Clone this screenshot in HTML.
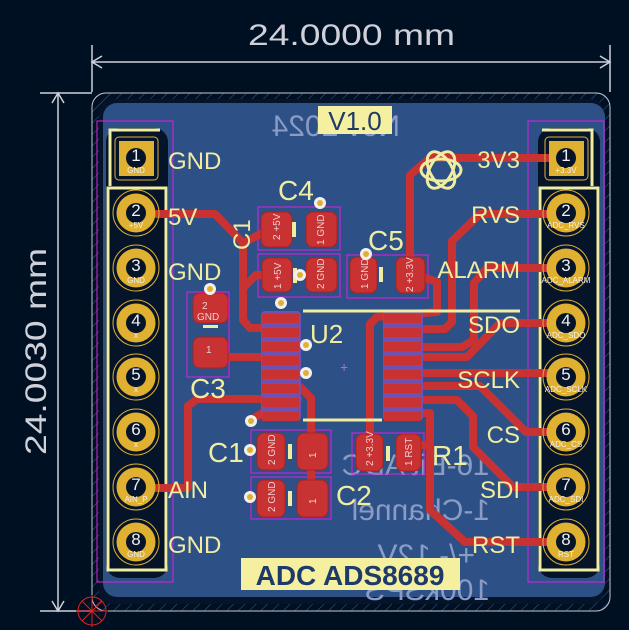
<!DOCTYPE html>
<html><head><meta charset="utf-8"><style>
html,body{margin:0;padding:0;background:#001023;}
svg{display:block}
text{font-family:"Liberation Sans","DejaVu Sans",sans-serif;}
</style></head><body>
<svg width="629" height="630" viewBox="0 0 629 630" xmlns="http://www.w3.org/2000/svg">
<defs>
<pattern id="h" width="8" height="8" patternUnits="userSpaceOnUse" patternTransform="rotate(45)">
<line x1="0" y1="0" x2="0" y2="8" stroke="#4d7ec0" stroke-width="1"/>
</pattern>
</defs>
<rect width="629" height="630" fill="#001023"/>
<rect x="92" y="93" width="518" height="518" rx="14" fill="url(#h)" opacity="0.7"/>
<rect x="92" y="93" width="518" height="518" rx="14" fill="none" stroke="#c8c8d0" stroke-width="1"/>
<rect x="99" y="99" width="504" height="505" rx="12" fill="#06142a"/>
<rect x="103" y="103" width="502" height="494" rx="14" fill="#2d5087"/>
<g stroke="#d0d0d8" stroke-width="1.5" fill="none">
<line x1="92" y1="62" x2="610" y2="62"/><line x1="92" y1="45" x2="92" y2="92"/><line x1="610" y1="45" x2="610" y2="92"/>
<polyline points="102,56 92,62 102,68"/><polyline points="600,56 610,62 600,68"/>
<line x1="58" y1="93" x2="58" y2="611"/><line x1="40" y1="93" x2="92" y2="93"/><line x1="40" y1="611" x2="92" y2="611"/>
<polyline points="52,103 58,93 64,103"/><polyline points="52,601 58,611 64,601"/>
</g>
<text x="248" y="45" font-size="30" fill="#d0d0d8" textLength="207" lengthAdjust="spacingAndGlyphs">24.0000 mm</text>
<text transform="translate(46,455) rotate(-90)" font-size="30" fill="#d0d0d8" textLength="207" lengthAdjust="spacingAndGlyphs">24.0030 mm</text>
<g stroke="#e02020" stroke-width="1" fill="none"><circle cx="92" cy="611" r="14"/><line x1="76" y1="611" x2="108" y2="611"/><line x1="92" y1="595" x2="92" y2="627"/><line x1="82" y1="601" x2="102" y2="621"/><line x1="102" y1="601" x2="82" y2="621"/></g>

<g fill="#8a9bc4" font-size="30">
<text transform="translate(400,136) scale(-1,1)">Nov 2024</text>
<text transform="translate(490,475) scale(-1,1)">16-Bit ADC</text>
<text transform="translate(490,520) scale(-1,1)">1-Channel</text>
<text transform="translate(475,565) scale(-1,1)">+/- 12V</text>
<text transform="translate(490,600) scale(-1,1)">100kSPS</text>
</g>

<g fill="#06142a">
<rect x="106" y="128" width="62" height="450" rx="14"/>
<rect x="538" y="128" width="62" height="450" rx="14"/>
</g>
<g fill="none" stroke="#e020e0" stroke-width="1">
<rect x="97" y="121" width="76" height="461"/>
<rect x="528" y="121" width="76" height="461"/>
<rect x="258" y="207" width="82" height="43"/>
<rect x="258" y="254" width="82" height="43"/>
<rect x="347" y="255" width="81" height="43"/>
<rect x="187" y="292" width="42" height="85"/>
<rect x="251" y="430" width="80" height="43"/>
<rect x="251" y="477" width="80" height="42"/>
<rect x="352" y="433" width="72" height="41"/>
</g>
<g fill="none" stroke="#f0eca0" stroke-width="3">
<polyline points="110,186 110,130 160,130"/>
<rect x="108" y="188" width="58" height="382"/>
<polyline points="592,186 592,130 542,130"/>
<rect x="540" y="188" width="58" height="382"/>
</g>

<g fill="none" stroke="#c83232" stroke-width="8" stroke-linejoin="round" stroke-linecap="round">
<polyline points="156,214 215,214 243,243 243,320 250,328 262,328"/>
<polyline points="243,243 268,230"/>
<polyline points="243,288 256,275 270,275"/>
<polyline points="209,357 262,357"/>
<polyline points="156,488 188,488 188,406 197,399 298,399"/>
<polyline points="298,385 311,398 311,500"/>
<polyline points="251,420 262,413"/>
<polyline points="566,158 430,158 410,175 410,272"/>
<polyline points="420,276 437,282 437,312 377,317 370,324 370,445"/>
<polyline points="566,214 480,214 452,241 452,322 445,329 420,329"/>
<polyline points="566,268 487,268 474,283 474,340 462,347 420,347"/>
<polyline points="566,323 500,323 467,357 420,357"/>
<polyline points="420,373 566,373"/>
<polyline points="420,386 480,386 526,432 566,432"/>
<polyline points="420,400 457,400 473,416 473,447 513,487 566,487"/>
<polyline points="420,413 430,413 430,510 465,542 566,542"/>
<polyline points="412,445 430,445"/>
</g>

<g fill="#7050b0">
<rect x="261" y="311" width="40" height="110" rx="4"/>
<rect x="383" y="311" width="40" height="110" rx="4"/>
</g>
<g fill="#c83232">
<rect x="262" y="314" width="37" height="9"/><rect x="262" y="328" width="37" height="9"/><rect x="262" y="342" width="37" height="9"/><rect x="262" y="356" width="37" height="9"/>
<rect x="262" y="370" width="37" height="9"/><rect x="262" y="384" width="37" height="9"/><rect x="262" y="398" width="37" height="9"/><rect x="262" y="412" width="37" height="9"/>
<rect x="384" y="314" width="37" height="9"/><rect x="384" y="328" width="37" height="9"/><rect x="384" y="342" width="37" height="9"/><rect x="384" y="356" width="37" height="9"/>
<rect x="384" y="370" width="37" height="9"/><rect x="384" y="384" width="37" height="9"/><rect x="384" y="398" width="37" height="9"/><rect x="384" y="412" width="37" height="9"/>
</g>
<g stroke="#f0eca0" stroke-width="3"><line x1="303" y1="311" x2="520" y2="311"/><line x1="303" y1="420" x2="382" y2="420"/></g>
<text x="310" y="343" font-size="26" fill="#f0eca0">U2</text>
<text x="340" y="372" font-size="14" fill="#a070e0">+</text>

<g fill="#c83232" stroke="#b02020">
<rect x="261" y="212" width="31" height="35" rx="7"/><rect x="306" y="212" width="31" height="35" rx="7"/>
<rect x="262" y="258" width="30" height="34" rx="7"/><rect x="306" y="258" width="31" height="34" rx="7"/>
<rect x="350" y="257" width="27" height="36" rx="7"/><rect x="396" y="257" width="29" height="36" rx="7"/>
<rect x="193" y="293" width="35" height="30" rx="7"/><rect x="193" y="337" width="35" height="31" rx="7"/>
<rect x="257" y="433" width="28" height="37" rx="7"/><rect x="297" y="433" width="31" height="37" rx="7"/>
<rect x="257" y="480" width="28" height="37" rx="7"/><rect x="297" y="480" width="31" height="37" rx="7"/>
<rect x="356" y="434" width="27" height="37" rx="7"/><rect x="396" y="434" width="25" height="37" rx="7"/>
</g>
<g fill="#f0d0d0" font-size="10">
<text transform="translate(280,240) rotate(-90)">2 +5V</text>
<text transform="translate(324,245) rotate(-90)">1 GND</text>
<text transform="translate(281,289) rotate(-90)">1 +5V</text>
<text transform="translate(324,289) rotate(-90)">2 GND</text>
<text transform="translate(368,289) rotate(-90)">1 GND</text>
<text transform="translate(413,292) rotate(-90)">2 +3.3V</text>
<text x="202" y="309">2</text><text x="197" y="320">GND</text>
<text x="206" y="353">1</text>
<text transform="translate(275,465) rotate(-90)">2 GND</text>
<text transform="translate(316,458) rotate(-90)">1</text>
<text transform="translate(275,512) rotate(-90)">2 GND</text>
<text transform="translate(316,504) rotate(-90)">1</text>
<text transform="translate(373,466) rotate(-90)">2 +3.3V</text>
<text transform="translate(412,466) rotate(-90)">1 RST</text>
</g>
<g fill="#f0eca0">
<rect x="292" y="222" width="4" height="15"/><rect x="293" y="268" width="4" height="15"/>
<rect x="379" y="267" width="4" height="15"/><rect x="203" y="325" width="15" height="3"/>
<rect x="288" y="444" width="4" height="15"/><rect x="288" y="491" width="4" height="15"/><rect x="386" y="446" width="4" height="15"/>
</g>

<g fill="#f0f0f0"><circle cx="320" cy="203" r="6"/><circle cx="300" cy="275" r="6"/><circle cx="281" cy="303" r="6"/><circle cx="210" cy="289" r="6"/><circle cx="306" cy="345" r="6"/><circle cx="306" cy="373" r="6"/><circle cx="251" cy="421" r="6"/><circle cx="250" cy="450" r="6"/><circle cx="250" cy="497" r="6"/><circle cx="366" cy="254" r="6"/></g>
<g fill="#e0b030"><circle cx="320" cy="203" r="3"/><circle cx="300" cy="275" r="3"/><circle cx="281" cy="303" r="3"/><circle cx="210" cy="289" r="3"/><circle cx="306" cy="345" r="3"/><circle cx="306" cy="373" r="3"/><circle cx="251" cy="421" r="3"/><circle cx="250" cy="450" r="3"/><circle cx="250" cy="497" r="3"/><circle cx="366" cy="254" r="3"/></g>

<g>
<rect x="119" y="141" width="35" height="35" fill="#e0b030"/>
<rect x="549" y="141" width="35" height="35" fill="#e0b030"/>
<g fill="#e0b030">
<circle cx="136" cy="213" r="19.5"/><circle cx="136" cy="268" r="19.5"/><circle cx="136" cy="323" r="19.5"/><circle cx="136" cy="377" r="19.5"/><circle cx="136" cy="432" r="19.5"/><circle cx="136" cy="487" r="19.5"/><circle cx="136" cy="542" r="19.5"/>
<circle cx="566" cy="213" r="19.5"/><circle cx="566" cy="268" r="19.5"/><circle cx="566" cy="323" r="19.5"/><circle cx="566" cy="377" r="19.5"/><circle cx="566" cy="432" r="19.5"/><circle cx="566" cy="487" r="19.5"/><circle cx="566" cy="542" r="19.5"/>
</g>
<g fill="none" stroke="#e0b030" stroke-width="1">
<circle cx="136" cy="213" r="23"/><circle cx="136" cy="268" r="23"/><circle cx="136" cy="323" r="23"/><circle cx="136" cy="377" r="23"/><circle cx="136" cy="432" r="23"/><circle cx="136" cy="487" r="23"/><circle cx="136" cy="542" r="23"/>
<circle cx="566" cy="213" r="23"/><circle cx="566" cy="268" r="23"/><circle cx="566" cy="323" r="23"/><circle cx="566" cy="377" r="23"/><circle cx="566" cy="432" r="23"/><circle cx="566" cy="487" r="23"/><circle cx="566" cy="542" r="23"/>
<rect x="115" y="137" width="43" height="43" rx="4"/><rect x="545" y="137" width="43" height="43" rx="4"/>
</g>
<g fill="#06142a">
<circle cx="136" cy="158" r="10"/><circle cx="136" cy="213" r="10"/><circle cx="136" cy="268" r="10"/><circle cx="136" cy="323" r="10"/><circle cx="136" cy="377" r="10"/><circle cx="136" cy="432" r="10"/><circle cx="136" cy="487" r="10"/><circle cx="136" cy="542" r="10"/>
<circle cx="566" cy="158" r="10"/><circle cx="566" cy="213" r="10"/><circle cx="566" cy="268" r="10"/><circle cx="566" cy="323" r="10"/><circle cx="566" cy="377" r="10"/><circle cx="566" cy="432" r="10"/><circle cx="566" cy="487" r="10"/><circle cx="566" cy="542" r="10"/>
</g>
<g fill="#f0f0f0" font-size="17" text-anchor="middle">
<text x="136" y="161">1</text><text x="136" y="216">2</text><text x="136" y="271">3</text><text x="136" y="326">4</text><text x="136" y="380">5</text><text x="136" y="435">6</text><text x="136" y="490">7</text><text x="136" y="545">8</text>
<text x="566" y="161">1</text><text x="566" y="216">2</text><text x="566" y="271">3</text><text x="566" y="326">4</text><text x="566" y="380">5</text><text x="566" y="435">6</text><text x="566" y="490">7</text><text x="566" y="545">8</text>
</g>
<g fill="#f0f0f0" font-size="8" text-anchor="middle">
<text x="136" y="173">GND</text><text x="136" y="228">+5V</text><text x="136" y="283">GND</text><text x="136" y="338">x</text><text x="136" y="392">x</text><text x="136" y="447">x</text><text x="136" y="502">AIN_P</text><text x="136" y="557">GND</text>
<text x="566" y="173">+3.3V</text><text x="566" y="228">ADC_RVS</text><text x="566" y="283">ADC_ALARM</text><text x="566" y="338">ADC_SDO</text><text x="566" y="392">ADC_SCLK</text><text x="566" y="447">ADC_CS</text><text x="566" y="502">ADC_SDI</text><text x="566" y="557">RST</text>
</g>
</g>

<g fill="#f0eca0" font-size="24">
<text x="168" y="169">GND</text><text x="168" y="225">5V</text><text x="168" y="280">GND</text><text x="168" y="498">AIN</text><text x="168" y="553">GND</text>
<text x="520" y="168" text-anchor="end">3V3</text><text x="520" y="223" text-anchor="end">RVS</text><text x="520" y="278" text-anchor="end">ALARM</text><text x="520" y="333" text-anchor="end">SDO</text><text x="520" y="388" text-anchor="end">SCLK</text><text x="520" y="443" text-anchor="end">CS</text><text x="520" y="498" text-anchor="end">SDI</text><text x="520" y="553" text-anchor="end">RST</text>
</g>
<g fill="#f0eca0" font-size="28">
<text x="278" y="200">C4</text><text x="368" y="250">C5</text><text x="190" y="398">C3</text><text x="208" y="462">C1</text><text x="336" y="505">C2</text><text x="432" y="465">R1</text>
<text transform="translate(250,250) rotate(-90)" font-size="24">C1</text>
</g>
<g fill="none" stroke="#f0eca0" stroke-width="3">
<ellipse cx="441" cy="170" rx="20" ry="11"/><ellipse cx="441" cy="170" rx="20" ry="11" transform="rotate(60 441 170)"/><ellipse cx="441" cy="170" rx="20" ry="11" transform="rotate(-60 441 170)"/>
</g>
<rect x="318" y="106" width="74" height="28" fill="#f5f0a0"/>
<text x="355" y="130" font-size="26" fill="#1e3a6a" text-anchor="middle">V1.0</text>
<rect x="241" y="558" width="219" height="32" fill="#f5f0a0"/>
<text x="350" y="585" font-size="28" font-weight="bold" fill="#1e3a6a" text-anchor="middle">ADC ADS8689</text>
</svg>
</body></html>
